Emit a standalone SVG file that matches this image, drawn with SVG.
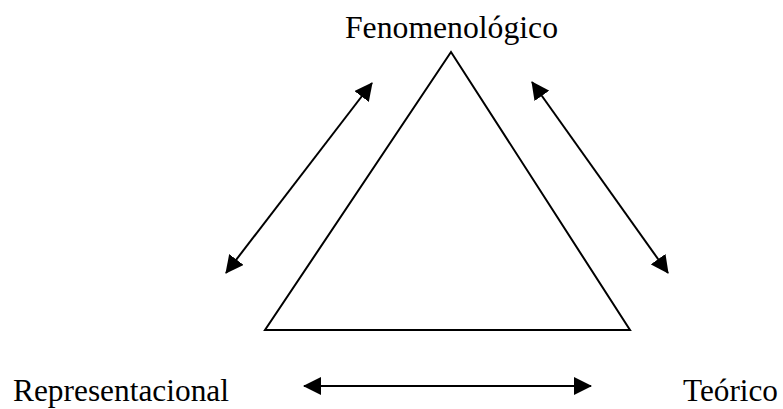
<svg xmlns="http://www.w3.org/2000/svg" width="783" height="409" viewBox="0 0 783 409">
<style>
.lbl{font-family:"Liberation Serif","Times New Roman",serif;font-size:31px;fill:#000}
.conn{stroke:#000;stroke-width:2;fill:none}
.tri{stroke:#000;stroke-width:2;fill:none;stroke-linejoin:miter}
</style>
<defs>
<marker id="ah" viewBox="0 0 18 18" refX="17" refY="9" markerWidth="18" markerHeight="18" markerUnits="userSpaceOnUse" orient="auto-start-reverse">
<path d="M0,0 L18,9 L0,18 z" fill="#000"/>
</marker>
</defs>
<rect width="783" height="409" fill="#fff"/>
<g id="triangle">
<polygon class="tri" points="451,52 265,330 630,330"/>
</g>
<g id="fenomenologico">
<text class="lbl" x="345" y="38" textLength="213" lengthAdjust="spacingAndGlyphs">Fenomenológico</text>
</g>
<g id="representacional">
<text class="lbl" x="13" y="401" textLength="216" lengthAdjust="spacingAndGlyphs">Representacional</text>
</g>
<g id="teorico">
<text class="lbl" x="683" y="401" textLength="95" lengthAdjust="spacingAndGlyphs">Teórico</text>
</g>
<g id="connectors">
<line class="conn" x1="226" y1="273" x2="372" y2="83" marker-start="url(#ah)" marker-end="url(#ah)"/>
<line class="conn" x1="532" y1="82" x2="668" y2="273" marker-start="url(#ah)" marker-end="url(#ah)"/>
<line class="conn" x1="304" y1="386" x2="591" y2="386" marker-start="url(#ah)" marker-end="url(#ah)"/>
</g>
</svg>
